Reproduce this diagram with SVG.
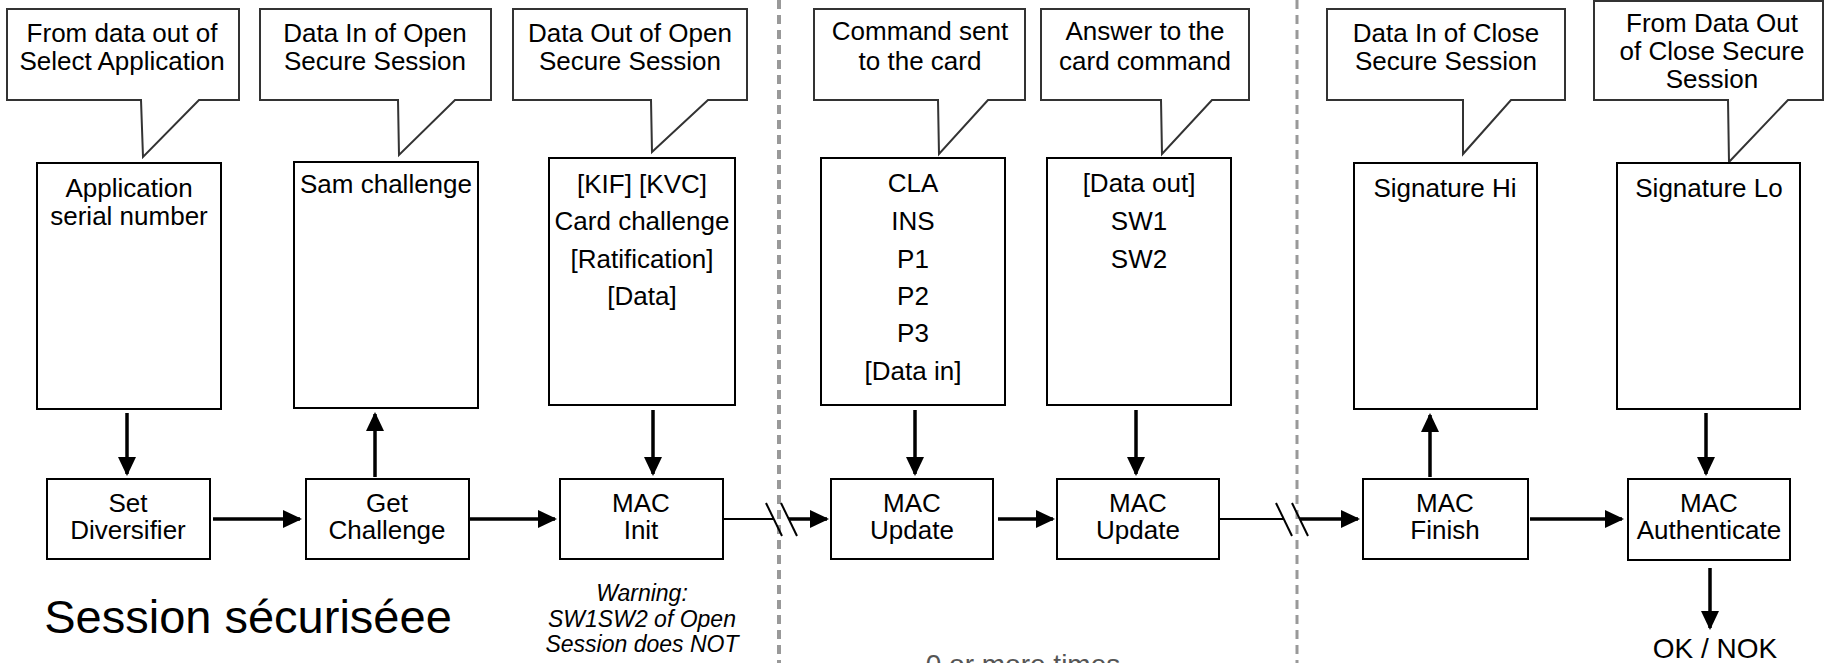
<svg xmlns="http://www.w3.org/2000/svg" width="1825" height="663" viewBox="0 0 1825 663">
<style>
text{font-family:"Liberation Sans",Arial,sans-serif;font-size:26px;fill:#000;text-anchor:middle}
.box{fill:#fff;stroke:#000;stroke-width:2}
.call{fill:#fff;stroke:#333;stroke-width:2;stroke-linejoin:miter}
.arr{stroke:#000;stroke-width:3.5;fill:none;marker-end:url(#ah)}
.thin{stroke:#000;stroke-width:2;fill:none}
.dash{stroke:#999;fill:none;stroke-dasharray:9 6}
.warn{font-style:italic;font-size:23px}
</style>
<defs>
<marker id="ah" markerUnits="userSpaceOnUse" markerWidth="20" markerHeight="18" refX="17" refY="9" orient="auto">
<path d="M0,0 L19,9 L0,18 Z" fill="#000"/>
</marker>
</defs>
<g id="separators">
<line class="dash" x1="779" y1="0" x2="779" y2="663" stroke-width="4"/>
<line class="dash" x1="1297" y1="0" x2="1297" y2="663" stroke-width="3"/>
</g>
<g id="callout1"><path class="call" d="M7,9 H239 V100 H199 L143,157 L141,100 H7 Z"/><text x="122" y="42">From data out of</text><text x="122" y="70">Select Application</text></g>
<g id="callout2"><path class="call" d="M260,9 H491 V100 H455 L399,155 L398,100 H260 Z"/><text x="375" y="42">Data In of Open</text><text x="375" y="70">Secure Session</text></g>
<g id="callout3"><path class="call" d="M513,9 H747 V100 H708 L652,152 L651,100 H513 Z"/><text x="630" y="42">Data Out of Open</text><text x="630" y="70">Secure Session</text></g>
<g id="callout4"><path class="call" d="M814,9 H1025 V100 H988 L939,154 L938,100 H814 Z"/><text x="920" y="40">Command sent</text><text x="920" y="70">to the card</text></g>
<g id="callout5"><path class="call" d="M1041,9 H1249 V100 H1212 L1162,154 L1161,100 H1041 Z"/><text x="1145" y="40">Answer to the</text><text x="1145" y="70">card command</text></g>
<g id="callout6"><path class="call" d="M1327,9 H1565 V100 H1511 L1463,154 L1463,100 H1327 Z"/><text x="1446" y="42">Data In of Close</text><text x="1446" y="70">Secure Session</text></g>
<g id="callout7"><path class="call" d="M1594,1 H1823 V100 H1788 L1729,162 L1728,100 H1594 Z"/><text x="1712" y="32">From Data Out</text><text x="1712" y="60">of Close Secure</text><text x="1712" y="88">Session</text></g>
<g id="data1"><rect class="box" x="37" y="163" width="184" height="246"/><text x="129" y="197">Application</text><text x="129" y="225">serial number</text></g>
<g id="data2"><rect class="box" x="294" y="162" width="184" height="246"/><text x="386" y="193">Sam challenge</text></g>
<g id="data3"><rect class="box" x="549" y="158" width="186" height="247"/><text x="642" y="193">[KIF] [KVC]</text><text x="642" y="230">Card challenge</text><text x="642" y="268">[Ratification]</text><text x="642" y="305">[Data]</text></g>
<g id="data4"><rect class="box" x="821" y="158" width="184" height="247"/><text x="913" y="192">CLA</text><text x="913" y="230">INS</text><text x="913" y="268">P1</text><text x="913" y="305">P2</text><text x="913" y="342">P3</text><text x="913" y="380">[Data in]</text></g>
<g id="data5"><rect class="box" x="1047" y="158" width="184" height="247"/><text x="1139" y="192">[Data out]</text><text x="1139" y="230">SW1</text><text x="1139" y="268">SW2</text></g>
<g id="data6"><rect class="box" x="1354" y="163" width="183" height="246"/><text x="1445" y="197">Signature Hi</text></g>
<g id="data7"><rect class="box" x="1617" y="163" width="183" height="246"/><text x="1709" y="197">Signature Lo</text></g>
<g id="setDiversifier"><rect class="box" x="47" y="479" width="163" height="80"/><text x="128" y="512">Set</text><text x="128" y="539">Diversifier</text></g>
<g id="getChallenge"><rect class="box" x="306" y="479" width="163" height="80"/><text x="387" y="512">Get</text><text x="387" y="539">Challenge</text></g>
<g id="macInit"><rect class="box" x="560" y="479" width="163" height="80"/><text x="641" y="512">MAC</text><text x="641" y="539">Init</text></g>
<g id="macUpdate1"><rect class="box" x="831" y="479" width="162" height="80"/><text x="912" y="512">MAC</text><text x="912" y="539">Update</text></g>
<g id="macUpdate2"><rect class="box" x="1057" y="479" width="162" height="80"/><text x="1138" y="512">MAC</text><text x="1138" y="539">Update</text></g>
<g id="macFinish"><rect class="box" x="1363" y="479" width="165" height="80"/><text x="1445" y="512">MAC</text><text x="1445" y="539">Finish</text></g>
<g id="macAuthenticate"><rect class="box" x="1628" y="479" width="162" height="81"/><text x="1709" y="512">MAC</text><text x="1709" y="539">Authenticate</text></g>
<g id="connectors">
<line class="arr" x1="127" y1="413" x2="127" y2="474"/>
<line class="arr" x1="375" y1="477" x2="375" y2="414"/>
<line class="arr" x1="653" y1="410" x2="653" y2="474"/>
<line class="arr" x1="915" y1="410" x2="915" y2="474"/>
<line class="arr" x1="1136" y1="410" x2="1136" y2="474"/>
<line class="arr" x1="1430" y1="477" x2="1430" y2="415"/>
<line class="arr" x1="1706" y1="413" x2="1706" y2="474"/>
<line class="arr" x1="1710" y1="568" x2="1710" y2="628"/>
<line class="arr" x1="213" y1="519" x2="300" y2="519"/>
<line class="arr" x1="470" y1="519" x2="555" y2="519"/>
<line class="thin" x1="723" y1="519" x2="774" y2="519"/>
<line class="thin" x1="766" y1="503" x2="782" y2="536"/>
<line class="thin" x1="781" y1="503" x2="797" y2="536"/>
<line class="arr" x1="789" y1="519" x2="827" y2="519"/>
<line class="arr" x1="998" y1="519" x2="1053" y2="519"/>
<line class="thin" x1="1219" y1="519" x2="1284" y2="519"/>
<line class="thin" x1="1276" y1="503" x2="1292" y2="536"/>
<line class="thin" x1="1292" y1="503" x2="1308" y2="536"/>
<line class="arr" x1="1300" y1="519" x2="1358" y2="519"/>
<line class="arr" x1="1530" y1="519" x2="1622" y2="519"/>
</g>
<g id="labels">
<text x="248" y="633" style="font-size:47px">Session sécuriséee</text>
<text class="warn" x="642" y="601">Warning:</text>
<text class="warn" x="642" y="627">SW1SW2 of Open</text>
<text class="warn" x="642" y="652">Session does NOT</text>
<text x="1715" y="658" style="font-size:28px">OK / NOK</text>
<text x="1023" y="674" style="font-size:28px;fill:#555">0 or more times</text>
</g>
</svg>
